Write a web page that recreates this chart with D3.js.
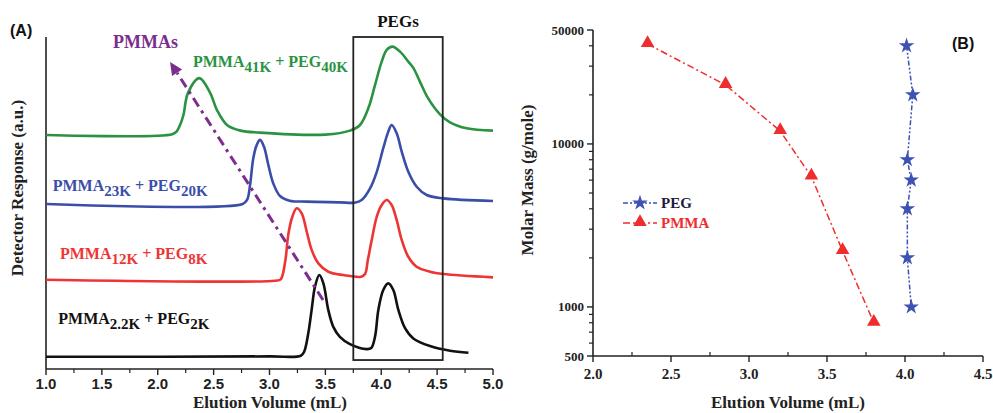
<!DOCTYPE html>
<html><head><meta charset="utf-8">
<script src="https://cdn.jsdelivr.net/npm/d3@7"></script>
<style>
html,body{margin:0;padding:0;background:#fff;}
svg{display:block;}
.serif{font-family:"Liberation Serif","Times New Roman",serif;font-weight:bold;}
.sans{font-family:"Liberation Sans",Arial,sans-serif;font-weight:bold;}
</style></head>
<body>
<svg id="chart" width="993" height="413"></svg>
<script>
// ---------- Panel A data (elution volume mL, detector response a.u.) ----------
const aXTicks = [1.0,1.5,2.0,2.5,3.0,3.5,4.0,4.5,5.0];
const aXMinor = [1.25,1.75,2.25,2.75,3.25,3.75,4.25,4.75];
const traceBlack = [[1.0,3.7],[3.0,3.8],[3.28,4.0],[3.31,5.2],[3.347,10.75],[3.377,17.8],[3.407,24.8],[3.446,28.3],[3.482,25.8],[3.526,17.8],[3.571,12.7],[3.63,9.7],[3.72,7.5],[3.87,6.0],[3.91,6.3],[3.944,9.7],[3.974,17.8],[4.018,23.8],[4.063,25.8],[4.108,23.8],[4.153,17.8],[4.213,12.3],[4.287,9.2],[4.436,6.9],[4.615,5.5],[4.78,4.9]];
const traceRed = [[1.0,26.9],[3.05,26.6],[3.1,27.0],[3.14,32.3],[3.168,40.4],[3.2,45.4],[3.243,48.4],[3.288,46.9],[3.333,41.4],[3.378,35.8],[3.437,31.8],[3.526,29.3],[3.66,28.3],[3.82,27.8],[3.855,28.6],[3.88,32.8],[3.915,38.9],[3.96,45.9],[4.004,49.4],[4.049,50.9],[4.093,49.4],[4.138,44.9],[4.183,38.9],[4.242,33.8],[4.317,30.8],[4.436,29.3],[4.556,28.6],[5.0,27.6]];
const traceBlue = [[1.0,49.7],[2.76,49.7],[2.8,51.0],[2.826,55.4],[2.855,63.5],[2.886,67.5],[2.915,69.0],[2.95,67.0],[2.99,61.4],[3.034,55.9],[3.094,52.1],[3.18,50.7],[3.33,50.4],[3.63,50.2],[3.76,50.1],[3.825,50.9],[3.9,54.4],[3.96,59.4],[4.018,66.5],[4.063,71.5],[4.093,73.5],[4.138,71.0],[4.183,65.5],[4.242,59.4],[4.317,54.9],[4.407,52.4],[4.556,51.4],[5.0,50.6]];
const traceGreen = [[1.0,70.5],[2.13,70.7],[2.17,71.6],[2.2,73.5],[2.23,76.5],[2.27,83.1],[2.372,87.6],[2.47,83.1],[2.53,78.0],[2.62,73.5],[2.74,71.8],[2.915,71.2],[3.5,70.6],[3.72,71.8],[3.81,73.5],[3.885,78.6],[3.944,85.5],[4.004,92.6],[4.049,96.1],[4.10,97.1],[4.168,95.6],[4.242,92.6],[4.287,90.7],[4.347,86.5],[4.42,81.5],[4.526,76.7],[4.615,74.3],[4.765,72.5],[5.0,71.8]];
const traceColors = ["#111111","#ee3535","#3a4ea8","#2a9342"];
const traceLabels = [
  {main1:"PMMA", sub1:"2.2K", main2:" + PEG", sub2:"2K", x:1.11, y:13.5},
  {main1:"PMMA", sub1:"12K", main2:" + PEG", sub2:"8K", x:1.125, y:33.0},
  {main1:"PMMA", sub1:"23K", main2:" + PEG", sub2:"20K", x:1.06, y:53.7},
  {main1:"PMMA", sub1:"41K", main2:" + PEG", sub2:"40K", x:2.315, y:91.0}
];
const pegBox = {x0:3.75, x1:4.55, y0:2.7, y1:100};
const pmmaArrow = {x0:3.479, y0:20.8, x1:2.11, y1:92.5};

// ---------- Panel B data ----------
const bXTicks = [2.0,2.5,3.0,3.5,4.0,4.5];
const bXMinor = [2.25,2.75,3.25,3.75,4.25];
const bYTicks = [500,1000,10000,50000];
const bYMinor = [600,700,800,900,2000,3000,4000,5000,6000,7000,8000,9000,20000,30000,40000];
const pmmaVol = [2.35,2.85,3.2,3.4,3.6,3.8];
const pmmaMass = [41000,23000,12000,6300,2200,800];
const pegVol = [4.01,4.05,4.015,4.04,4.015,4.015,4.04];
const pegMass = [40000,20000,8000,6000,4000,2000,1000];

const svg = d3.select("#chart");

// ================= Panel A =================
const ax = d3.scaleLinear().domain([1,5]).range([46,493]);
const ay = d3.scaleLinear().domain([0,100]).range([369,37]);
const gA = svg.append("g");

gA.append("line").attr("x1",46).attr("x2",46).attr("y1",ay(100)).attr("y2",ay(0)).attr("stroke","#222").attr("stroke-width",1.6);
gA.append("line").attr("x1",ax(1)).attr("x2",ax(5)).attr("y1",ay(0)).attr("y2",ay(0)).attr("stroke","#222").attr("stroke-width",1.6);
gA.selectAll(".majA").data(aXTicks).enter().append("line")
  .attr("x1",d=>ax(d)).attr("x2",d=>ax(d)).attr("y1",ay(0)).attr("y2",ay(0)+6).attr("stroke","#222").attr("stroke-width",1.4);
gA.selectAll(".minA").data(aXMinor).enter().append("line")
  .attr("x1",d=>ax(d)).attr("x2",d=>ax(d)).attr("y1",ay(0)).attr("y2",ay(0)+4).attr("stroke","#222").attr("stroke-width",1.2);
gA.selectAll(".labA").data(aXTicks).enter().append("text").attr("class","sans")
  .attr("x",d=>ax(d)).attr("y",389).attr("text-anchor","middle").attr("font-size",15).attr("fill","#222")
  .text(d=>d.toFixed(1));
gA.append("text").attr("class","serif").attr("x",270).attr("y",408).attr("text-anchor","middle")
  .attr("font-size",17).attr("fill","#222").text("Elution Volume (mL)");
gA.append("text").attr("class","serif").attr("transform","translate(23,188) rotate(-90)")
  .attr("text-anchor","middle").attr("font-size",17).attr("fill","#222").text("Detector Response (a.u.)");

const line = d3.line().x(d=>ax(d[0])).y(d=>ay(d[1])).curve(d3.curveCatmullRom.alpha(0.5));
[traceBlack,traceRed,traceBlue,traceGreen].forEach((t,i)=>{
  gA.append("path").attr("d",line(t)).attr("fill","none").attr("stroke",traceColors[i]).attr("stroke-width",2.6).attr("stroke-linejoin","round");
});

gA.append("rect").attr("x",ax(pegBox.x0)).attr("y",ay(pegBox.y1))
  .attr("width",ax(pegBox.x1)-ax(pegBox.x0)).attr("height",ay(pegBox.y0)-ay(pegBox.y1))
  .attr("fill","none").attr("stroke","#222").attr("stroke-width",1.8);
gA.append("text").attr("class","serif").attr("x",(ax(pegBox.x0)+ax(pegBox.x1))/2).attr("y",27)
  .attr("text-anchor","middle").attr("font-size",17).attr("fill","#111").text("PEGs");

const purple = "#7c2e8e";
const ax0 = ax(pmmaArrow.x0), ay0 = ay(pmmaArrow.y0), ax1 = ax(pmmaArrow.x1), ay1 = ay(pmmaArrow.y1);
const ang = Math.atan2(ay1-ay0, ax1-ax0);
const headLen = 13, headW = 6;
const bx = ax1 - headLen*Math.cos(ang), by = ay1 - headLen*Math.sin(ang);
gA.append("line").attr("x1",ax0).attr("y1",ay0).attr("x2",bx).attr("y2",by)
  .attr("stroke",purple).attr("stroke-width",3).attr("stroke-dasharray","10,5,3,5");
gA.append("path").attr("d",`M${ax1},${ay1} L${bx+headW*Math.sin(ang)},${by-headW*Math.cos(ang)} L${bx-headW*Math.sin(ang)},${by+headW*Math.cos(ang)} Z`)
  .attr("fill",purple);
gA.append("text").attr("class","serif").attr("x",113).attr("y",48).attr("font-size",18).attr("fill",purple).text("PMMAs");

traceLabels.forEach((l,i)=>{
  const t = gA.append("text").attr("class","serif").attr("x",ax(l.x)).attr("y",ay(l.y))
    .attr("font-size",16).attr("fill",traceColors[i]);
  t.append("tspan").text(l.main1);
  t.append("tspan").attr("dy",5).attr("font-size",15).text(l.sub1);
  t.append("tspan").attr("dy",-5).text(l.main2);
  t.append("tspan").attr("dy",5).attr("font-size",15).text(l.sub2);
});
gA.append("text").attr("class","sans").attr("x",10).attr("y",36).attr("font-size",16).attr("fill","#111").text("(A)");

// ================= Panel B =================
const bx_ = d3.scaleLinear().domain([2,4.5]).range([593,983]);
const by_ = d3.scaleLog().domain([500,50000]).range([356,30]);
const gB = svg.append("g");
gB.append("line").attr("x1",bx_(2)).attr("x2",bx_(2)).attr("y1",by_(50000)).attr("y2",by_(500)).attr("stroke","#222").attr("stroke-width",1.6);
gB.append("line").attr("x1",bx_(2)).attr("x2",bx_(4.5)).attr("y1",by_(500)).attr("y2",by_(500)).attr("stroke","#222").attr("stroke-width",1.6);
gB.selectAll(".majBx").data(bXTicks).enter().append("line")
  .attr("x1",d=>bx_(d)).attr("x2",d=>bx_(d)).attr("y1",by_(500)).attr("y2",by_(500)+6).attr("stroke","#222").attr("stroke-width",1.4);
gB.selectAll(".minBx").data(bXMinor).enter().append("line")
  .attr("x1",d=>bx_(d)).attr("x2",d=>bx_(d)).attr("y1",by_(500)).attr("y2",by_(500)-4).attr("stroke","#222").attr("stroke-width",1.2);
gB.selectAll(".labBx").data(bXTicks).enter().append("text").attr("class","serif")
  .attr("x",d=>bx_(d)).attr("y",379).attr("text-anchor","middle").attr("font-size",15).attr("fill","#222")
  .text(d=>d.toFixed(1));
gB.selectAll(".majBy").data(bYTicks).enter().append("line")
  .attr("x1",bx_(2)-6).attr("x2",bx_(2)).attr("y1",d=>by_(d)).attr("y2",d=>by_(d)).attr("stroke","#222").attr("stroke-width",1.4);
gB.selectAll(".minBy").data(bYMinor).enter().append("line")
  .attr("x1",bx_(2)-4).attr("x2",bx_(2)).attr("y1",d=>by_(d)).attr("y2",d=>by_(d)).attr("stroke","#222").attr("stroke-width",1.2);
gB.selectAll(".labBy").data(bYTicks).enter().append("text").attr("class","serif")
  .attr("x",bx_(2)-9).attr("y",d=>by_(d)+4.5).attr("text-anchor","end").attr("font-size",13).attr("fill","#222")
  .text(d=>d);
gB.append("text").attr("class","serif").attr("x",788).attr("y",408).attr("text-anchor","middle")
  .attr("font-size",17).attr("fill","#222").text("Elution Volume (mL)");
gB.append("text").attr("class","serif").attr("transform","translate(533,180) rotate(-90)")
  .attr("text-anchor","middle").attr("font-size",17).attr("fill","#222").text("Molar Mass (g/mole)");
gB.append("text").attr("class","sans").attr("x",952).attr("y",49).attr("font-size",16).attr("fill","#111").text("(B)");

const pmmaPts = pmmaVol.map((v,i)=>[v,pmmaMass[i]]);
const pegPts = pegVol.map((v,i)=>[v,pegMass[i]]);
const bLine = d3.line().x(d=>bx_(d[0])).y(d=>by_(d[1]));
const red = "#ee2e2e", blue = "#3d52b3";
gB.append("path").attr("d",bLine(pmmaPts)).attr("fill","none").attr("stroke",red).attr("stroke-width",1.5).attr("stroke-dasharray","7,3,2,3");
gB.append("path").attr("d",bLine(pegPts)).attr("fill","none").attr("stroke",blue).attr("stroke-width",1.5).attr("stroke-dasharray","5,2,2,2,2,2");
const tri = d3.symbol().type(d3.symbolTriangle).size(80);
const star = d3.symbol().type(d3.symbolStar).size(75);
gB.selectAll(".tri").data(pmmaPts).enter().append("path").attr("d",tri)
  .attr("transform",d=>`translate(${bx_(d[0])},${by_(d[1])-1})`).attr("fill",red);
gB.selectAll(".star").data(pegPts).enter().append("path").attr("d",star)
  .attr("transform",d=>`translate(${bx_(d[0])},${by_(d[1])})`).attr("fill",blue);

const lg = gB.append("g");
lg.append("line").attr("x1",623).attr("x2",657).attr("y1",203).attr("y2",203).attr("stroke",blue).attr("stroke-width",1.5).attr("stroke-dasharray","5,2,2,2,2,2");
lg.append("path").attr("d",star).attr("transform","translate(640,203)").attr("fill",blue);
lg.append("text").attr("class","serif").attr("x",661).attr("y",208).attr("font-size",15).attr("fill","#1c1c3c").text("PEG");
lg.append("line").attr("x1",623).attr("x2",657).attr("y1",223).attr("y2",223).attr("stroke",red).attr("stroke-width",1.5).attr("stroke-dasharray","7,3,2,3");
lg.append("path").attr("d",tri).attr("transform","translate(640,222)").attr("fill",red);
lg.append("text").attr("class","serif").attr("x",661).attr("y",228).attr("font-size",15).attr("fill",red).text("PMMA");
</script>
</body></html>
